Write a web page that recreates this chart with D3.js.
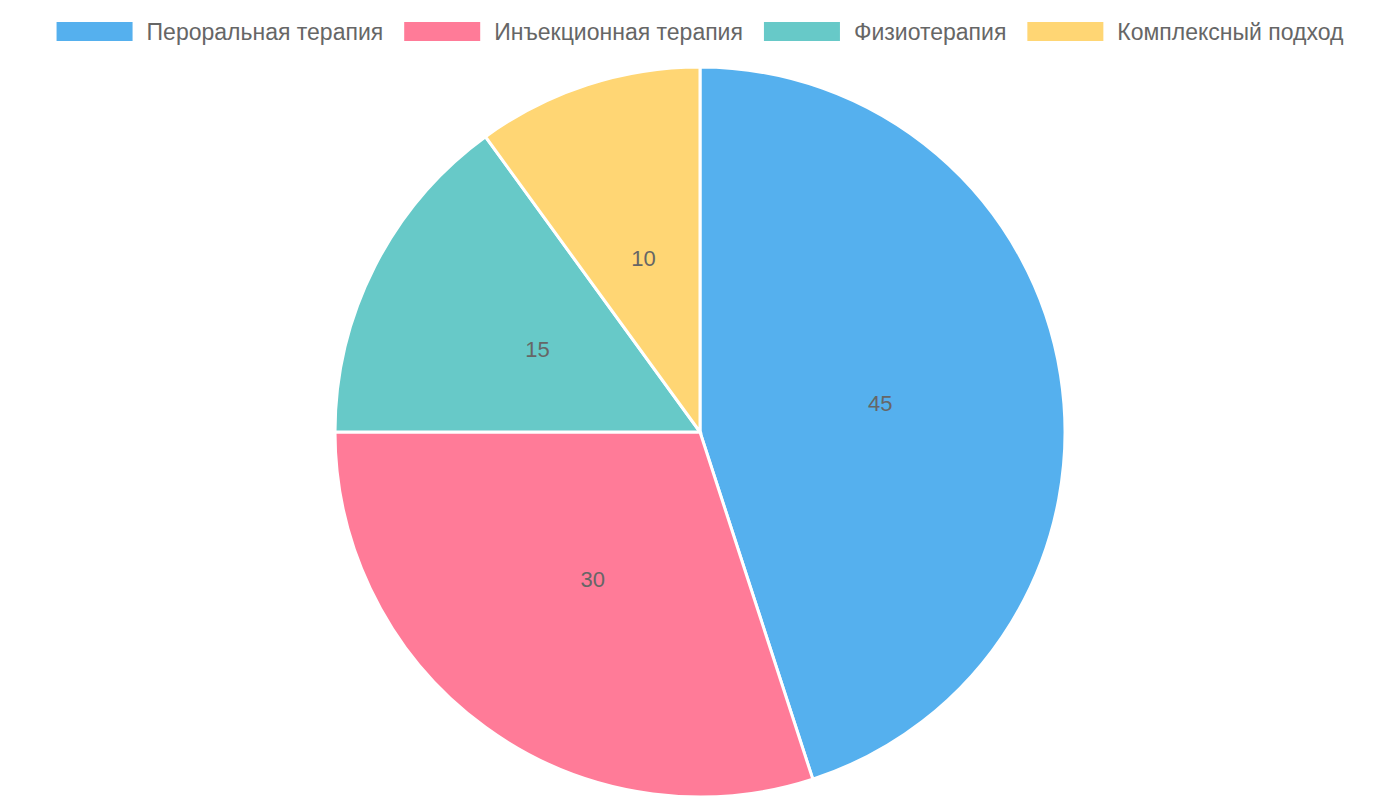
<!DOCTYPE html>
<html><head><meta charset="utf-8">
<script src="https://cdn.jsdelivr.net/npm/d3@7"></script>
<style>body{margin:0;background:#fff}</style></head>
<body><svg id="c" width="1400" height="800"></svg>
<script>
const categories = ["Пероральная терапия","Инъекционная терапия","Физиотерапия","Комплексный подход"];
const values = [45,30,15,10];
const colors = ["#55b0ee","#ff7b98","#67c9c8","#ffd674"];
const svg = d3.select("#c");
const font = "Liberation Sans, Arial, sans-serif";
const cx = 700, cy = 432, r = 365;
const pie = d3.pie().sort(null).value(d=>d)(values);
const arc = d3.arc().innerRadius(0).outerRadius(r);
const g = svg.append("g").attr("transform",`translate(${cx},${cy})`);
g.selectAll("path").data(pie).join("path").attr("d",arc)
 .attr("fill",(d,i)=>colors[i]).attr("stroke","#fff").attr("stroke-width",3);
const lab = d3.arc().innerRadius(r/2).outerRadius(r/2);
g.selectAll("text").data(pie).join("text")
 .attr("transform",d=>`translate(${lab.centroid(d)})`)
 .attr("text-anchor","middle").attr("dominant-baseline","central")
 .attr("font-family",font).attr("font-size",22).attr("fill","#666").text(d=>d.data);
// legend
const lg = svg.append("g");
const items = lg.selectAll("g").data(categories).join("g");
items.append("rect").attr("width",76).attr("height",19).attr("y",22).attr("fill",(d,i)=>colors[i]);
const txt = items.append("text").attr("x",90).attr("y",32).attr("dominant-baseline","central")
 .attr("font-family",font).attr("font-size",23).attr("fill","#666").text(d=>d);
const widths = txt.nodes().map(n=>90+n.getComputedTextLength());
const total = d3.sum(widths)+21*(widths.length-1);
let x = (1400-total)/2;
items.attr("transform",(d,i)=>{const t=`translate(${x},0)`; x+=widths[i]+21; return t;});
</script></body></html>
